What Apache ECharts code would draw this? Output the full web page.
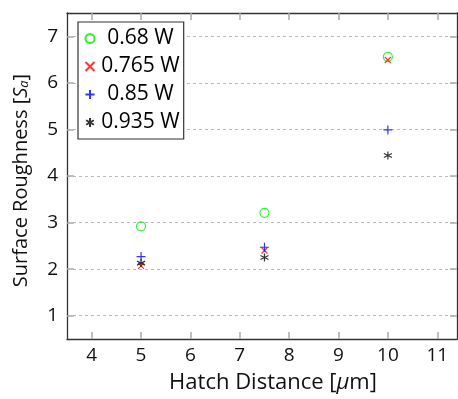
<!DOCTYPE html>
<html><head><meta charset="utf-8">
<script src="https://cdn.jsdelivr.net/npm/echarts@6/dist/echarts.min.js"></script>
<style>html,body{margin:0;padding:0;background:#fff}#c{width:458px;height:399px}</style>
</head><body><div id="c"></div>
<script>
const hatch = [5, 7.5, 10];
const seriesNames = ['0.68 W', '0.765 W', '0.85 W', '0.935 W'];
const p068 = [2.92, 3.21, 6.56];
const p0765 = [2.07, 2.40, 6.49];
const p085 = [2.27, 2.47, 4.99];
const p0935 = [2.13, 2.25, 4.44];
const xTicks = [4, 5, 6, 7, 8, 9, 10, 11];
const yTicks = [1, 2, 3, 4, 5, 6, 7];

const FONT = 'Open Sans';
const LEG_FS = 21;
const symX = 'path://M0,0 L10,10 M10,0 L0,10';
const symPlus = 'path://M5,0 L5,10 M0,5 L10,5';
const symStar = 'path://M5,0 L5,10 M0.7,2.5 L9.3,7.5 M0.7,7.5 L9.3,2.5';

// centre legend texts in a fixed-width column
const ctx = document.createElement('canvas').getContext('2d');
ctx.font = LEG_FS + 'px "' + FONT + '"';
const COLW = 82;
const legRich = {};
seriesNames.forEach((n, i) => {
  const w = ctx.measureText(n).width;
  const pl = Math.max(0, (COLW - w) / 2);
  legRich['t' + i] = { fontSize: LEG_FS, fontFamily: FONT, color: '#000', padding: [0, COLW - w - pl, 0, pl] };
});

function mk(name, vals, symbol, size, color) {
  return {
    name, type: 'scatter', xAxisIndex: 0, yAxisIndex: 0,
    data: hatch.map((x, i) => [x, vals[i]]),
    symbol, symbolSize: size,
    itemStyle: { color: 'none', borderColor: color, borderWidth: 1.2 },
    emphasis: { disabled: true }
  };
}

const chart = echarts.init(document.getElementById('c'), null, { renderer: 'canvas' });
const tickStyle = { inside: true, length: 7, lineStyle: { color: '#aaa', width: 1.5 } };
const lineStyle = { onZero: false, lineStyle: { color: '#333', width: 1.3 } };
chart.setOption({
  animation: false,
  textStyle: { fontFamily: FONT },
  grid: { left: 67, right: 1, top: 13, bottom: 56 },
  legend: {
    orient: 'vertical', left: 78, top: 22,
    padding: [6, 4, 6, 5],
    borderColor: '#333', borderWidth: 1.2,
    backgroundColor: '#fff',
    itemWidth: 9, itemHeight: 9, itemGap: 7,
    formatter: n => '{t' + seriesNames.indexOf(n) + '|' + n + '}',
    textStyle: { fontSize: LEG_FS, fontFamily: FONT, color: '#000', rich: legRich },
    data: seriesNames
  },
  xAxis: [{
    type: 'value', min: 3.5, max: 11.4, position: 'bottom',
    axisLabel: { customValues: xTicks, fontSize: 19, color: '#111', fontFamily: FONT, margin: 7 },
    axisTick: Object.assign({ customValues: xTicks }, tickStyle),
    axisLine: lineStyle,
    splitLine: { show: false },
    name: '{n|Hatch Distance [}{i|μ}{n|m]}', nameLocation: 'middle', nameGap: 33,
    nameTextStyle: { padding: [0, 0, 0, 22], rich: { n: { fontSize: 22, fontFamily: FONT, color: '#111' }, i: { fontSize: 22, fontFamily: FONT, fontStyle: 'italic', color: '#111' } } }
  }, {
    type: 'value', min: 3.5, max: 11.4, position: 'top',
    axisLabel: { show: false },
    axisTick: Object.assign({ customValues: xTicks }, tickStyle),
    axisLine: lineStyle,
    splitLine: { show: false }
  }],
  yAxis: [{
    type: 'value', min: 0.5, max: 7.5, position: 'left',
    axisLabel: { customValues: yTicks, fontSize: 19, color: '#111', fontFamily: FONT, margin: 9 },
    axisTick: Object.assign({ customValues: yTicks }, tickStyle),
    axisLine: lineStyle,
    splitLine: { show: false },
    name: '{n|Surface Roughness [}{i|S}{s|a}{n|]}', nameLocation: 'middle', nameGap: 36,
    nameTextStyle: { padding: [0, 9, 0, 0], rich: {
      n: { fontSize: 20, fontFamily: FONT, color: '#111' },
      i: { fontSize: 20, fontFamily: FONT, fontStyle: 'italic', color: '#111' },
      s: { fontSize: 13, fontFamily: FONT, fontStyle: 'italic', color: '#111', padding: [7, 0, 0, 0] } } }
  }, {
    type: 'value', min: 0.5, max: 7.5, position: 'right',
    axisLabel: { show: false },
    axisTick: Object.assign({ customValues: yTicks }, tickStyle),
    axisLine: lineStyle,
    splitLine: { show: false }
  }, {
    type: 'value', min: 0.5, max: 7.5, position: 'left', show: true,
    axisLabel: { show: false }, axisTick: { show: false }, axisLine: { show: false },
    splitLine: { show: true, customValues: yTicks, lineStyle: { color: '#bbb', type: [3, 3], width: 1 } }
  }],
  series: [
    mk(seriesNames[0], p068, 'circle', 9, '#00ee00'),
    mk(seriesNames[1], p0765, symX, 6, '#ff0000'),
    mk(seriesNames[2], p085, symPlus, 9, '#0000ff'),
    mk(seriesNames[3], p0935, symStar, 8, '#000000')
  ]
});
</script></body></html>
